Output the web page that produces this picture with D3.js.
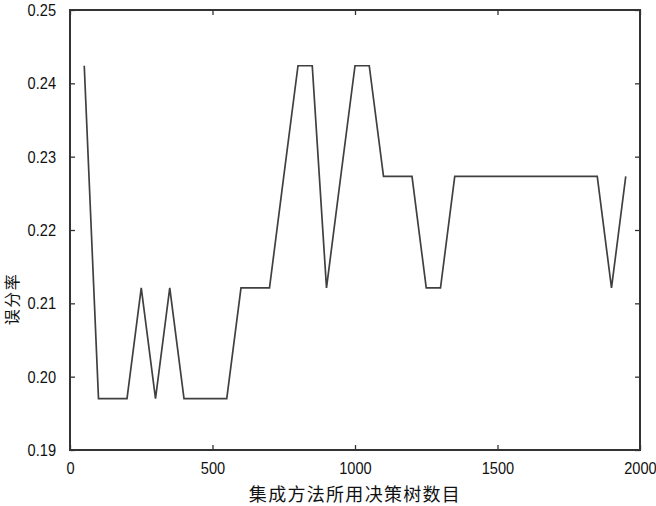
<!DOCTYPE html>
<html><head><meta charset="utf-8">
<script src="https://cdn.jsdelivr.net/npm/d3@7"></script>
<style>
html,body{margin:0;padding:0;background:#fff;}
svg{display:block;}
.tick text{font-family:"Liberation Sans",Arial,sans-serif;font-size:17px;fill:#111;}
</style></head>
<body>
<svg id="chart" width="656" height="506"></svg>
<script>
const treeCounts = [50,100,150,200,250,300,350,400,450,500,550,600,650,700,750,800,850,900,950,1000,
  1050,1100,1150,1200,1250,1300,1350,1400,1450,1500,1550,1600,1650,1700,1750,1800,1850,1900,1950];
const errorRates = [0.2424,0.1970,0.1970,0.1970,0.2121,0.1970,0.2121,0.1970,0.1970,0.1970,0.1970,0.2121,0.2121,0.2121,0.2273,0.2424,0.2424,0.2121,0.2273,0.2424,
  0.2424,0.2273,0.2273,0.2273,0.2121,0.2121,0.2273,0.2273,0.2273,0.2273,0.2273,0.2273,0.2273,0.2273,0.2273,0.2273,0.2273,0.2121,0.2273];
const xTicks = [0,500,1000,1500,2000];
const yTicks = [0.19,0.20,0.21,0.22,0.23,0.24,0.25];
const xLabel = "集成方法所用决策树数目";
const yLabel = "误分率";

const svg = d3.select("#chart");
const L=70, R=640, T=10, B=450;
const x = d3.scaleLinear().domain([0,2000]).range([L,R]);
const y = d3.scaleLinear().domain([0.19,0.25]).range([B,T]);
const col = "#333";
const sx = 0.86;

const ax = (g)=>{ g.select(".domain").remove(); g.selectAll(".tick line").attr("stroke",col).attr("stroke-width",1.3); };

svg.append("g").attr("transform",`translate(0,${B})`)
  .call(d3.axisBottom(x).tickValues(xTicks).tickFormat(d3.format("d")).tickSizeInner(-5).tickPadding(12))
  .call(ax)
  .selectAll(".tick text").attr("transform",`scale(${sx},1)`);
svg.append("g").attr("transform",`translate(0,${T})`)
  .call(d3.axisTop(x).tickValues(xTicks).tickFormat("").tickSizeInner(-5))
  .call(ax);
svg.append("g").attr("transform",`translate(${L},0)`)
  .call(d3.axisLeft(y).tickValues(yTicks).tickFormat(d3.format(".2f")).tickSizeInner(-5).tickPadding(14))
  .call(ax)
  .selectAll(".tick text").attr("x",-14/sx).attr("transform",`scale(${sx},1)`);
svg.append("g").attr("transform",`translate(${R},0)`)
  .call(d3.axisRight(y).tickValues(yTicks).tickFormat("").tickSizeInner(-5))
  .call(ax);

svg.append("rect").attr("x",L).attr("y",T).attr("width",R-L).attr("height",B-T)
  .attr("fill","none").attr("stroke",col).attr("stroke-width",2);

const line = d3.line().x((d,i)=>x(treeCounts[i])).y(d=>y(d));
svg.append("path").datum(errorRates).attr("d",line)
  .attr("fill","none").attr("stroke","#404040").attr("stroke-width",1.7).attr("stroke-linejoin","miter");

svg.append("text").attr("x",(L+R)/2).attr("y",495).attr("dy","0.35em")
  .attr("text-anchor","middle").style("font-family","'Noto Sans CJK SC',sans-serif")
  .style("font-size","18px").style("letter-spacing","1.3px").attr("fill","#111").text(xLabel);
svg.append("text").attr("transform","translate(12,299) rotate(-90)").attr("dy","0.35em")
  .attr("text-anchor","middle").style("font-family","'Noto Sans CJK SC',sans-serif")
  .style("font-size","16px").style("letter-spacing","1.5px").attr("fill","#111").text(yLabel);
</script>
</body></html>
